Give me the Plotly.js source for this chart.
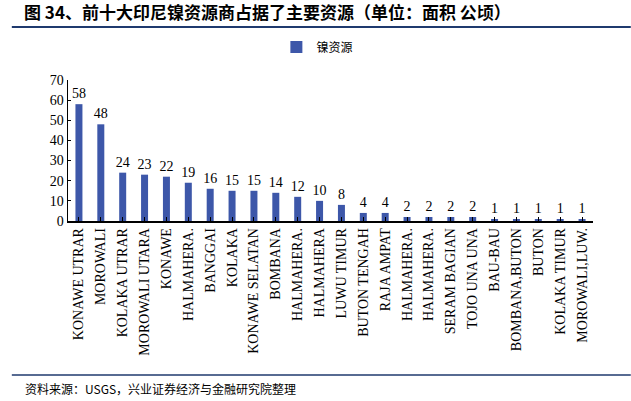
<!DOCTYPE html>
<html><head><meta charset="utf-8">
<script src="https://cdn.plot.ly/plotly-3.0.1.min.js"></script>
<style>html,body{margin:0;padding:0;background:#fff}#c{width:631px;height:401px}</style>
</head><body><div id="c"></div>
<script>
var categories = ["KONAWE UTRAR","MOROWALI","KOLAKA UTRAR","MOROWALI UTARA","KONAWE","HALMAHERA.","BANGGAI","KOLAKA","KONAWE SELATAN","BOMBANA","HALMAHERA.","HALMAHERA","LUWU TIMUR","BUTON TENGAH","RAJA AMPAT","HALMAHERA.","HALMAHERA.","SERAM BAGIAN","TOJO UNA UNA","BAU-BAU","BOMBANA,BUTON","BUTON","KOLAKA TIMUR","MOROWALI,LUW."];
var values = [58,48,24,23,22,19,16,15,15,14,12,10,8,4,4,2,2,2,2,1,1,1,1,1];
var seriesName = "镍资源";
var titleText = "图 34、前十大印尼镍资源商占据了主要资源（单位：面积 公顷）";
var sourceText = "资料来源：USGS，兴业证券经济与金融研究院整理";
var yTicks = [0,10,20,30,40,50,60,70];

var idx = categories.map(function(_, i){ return i; });
var serif = 'Liberation Serif';
var trace = {
  type: 'bar', x: idx, y: values, name: seriesName,
  marker: {color: '#3D57A9'}, width: 0.32,
  text: values.map(String), textposition: 'outside', cliponaxis: false,
  constraintext: 'none',
  textfont: {family: serif, size: 14, color: '#000'},
  outsidetextfont: {family: serif, size: 14, color: '#000'}
};
var layout = {
  width: 631, height: 401,
  margin: {l: 68, r: 38, t: 80, b: 180},
  paper_bgcolor: '#fff', plot_bgcolor: '#fff',
  showlegend: true,
  legend: {orientation: 'h', x: 0.475, xanchor: 'center', y: 1.234, yanchor: 'middle',
    font: {family: 'Noto Sans CJK SC', size: 12, color: '#000'}, itemwidth: 30},
  xaxis: {
    range: [-0.5, categories.length - 0.5],
    tickmode: 'array', tickvals: idx, ticktext: categories, tickangle: -90,
    tickfont: {family: serif, size: 14, color: '#000'},
    showline: true, linecolor: '#000', linewidth: 1.5,
    ticks: 'inside', tickson: 'boundaries', ticklen: 4, tickcolor: '#000',
    showgrid: false, zeroline: false, fixedrange: true
  },
  yaxis: {
    range: [0, 70], tickmode: 'array', tickvals: yTicks,
    tickfont: {family: serif, size: 14, color: '#000'},
    showline: true, linecolor: '#000', linewidth: 1.5,
    ticks: 'inside', ticklen: 3, tickcolor: '#000',
    showgrid: false, zeroline: false, fixedrange: true
  },
  shapes: [
    {type: 'line', xref: 'paper', yref: 'paper', x0: -0.107, x1: 1.072, y0: 1.376, y1: 1.376,
     line: {color: '#1F3A6E', width: 2}},
    {type: 'line', xref: 'paper', yref: 'paper', x0: -0.107, x1: 1.072, y0: -1.092, y1: -1.092,
     line: {color: '#1F3A6E', width: 1.5}}
  ],
  annotations: [
    {text: '<b>' + titleText + '</b>', xref: 'paper', yref: 'paper', x: -0.088, y: 1.385,
     xanchor: 'left', yanchor: 'bottom', showarrow: false,
     font: {family: 'Noto Sans CJK SC', size: 17, color: '#000'}},
    {text: sourceText, xref: 'paper', yref: 'paper', x: -0.085, y: -1.11,
     xanchor: 'left', yanchor: 'top', showarrow: false,
     font: {family: 'Noto Sans CJK SC', size: 12, color: '#000'}}
  ]
};
Plotly.newPlot('c', [trace], layout, {displayModeBar: false, staticPlot: true});
</script></body></html>
